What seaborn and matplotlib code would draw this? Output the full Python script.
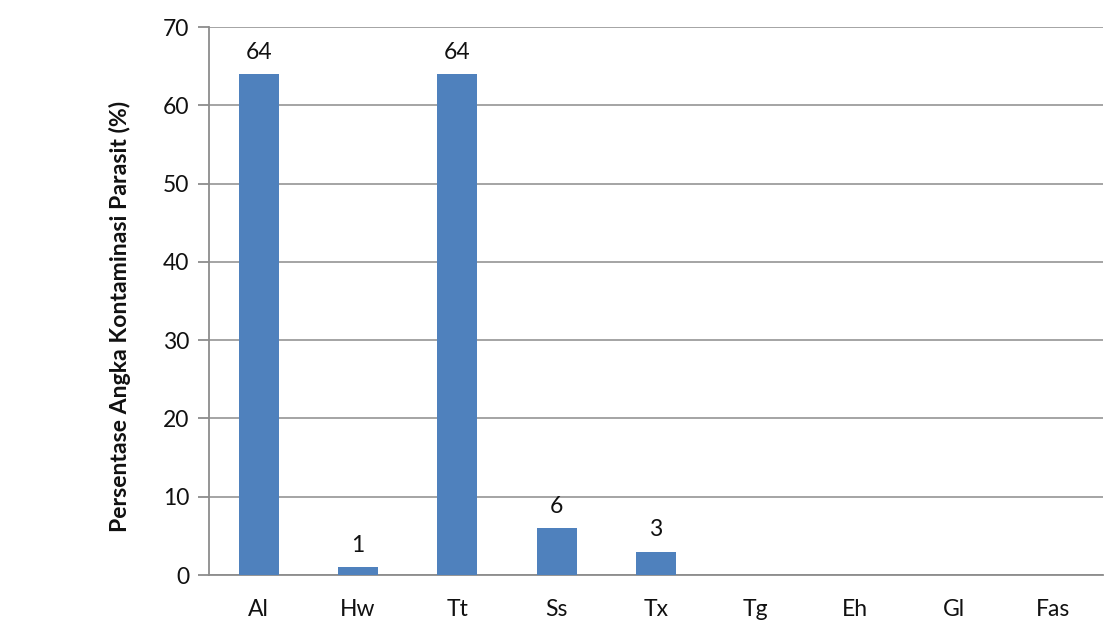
import matplotlib
matplotlib.use("Agg")
import matplotlib.pyplot as plt
import seaborn as sns
import pandas as pd
import numpy as np

# Parasite codes and contamination percentages
categories = ["Al", "Hw", "Tt", "Ss", "Tx", "Tg", "Eh", "Gl", "Fas"]
values = [64, 1, 64, 6, 3, 0, 0, 0, 0]
# Only non-zero values carry a label
labels = ["64", "1", "64", "6", "3", "", "", "", ""]
y_ticks = [0, 10, 20, 30, 40, 50, 60, 70]

sns.set_theme(style="white")
plt.rcParams["font.family"] = ["Lato", "DejaVu Sans"]

df = pd.DataFrame({"parasit": categories, "persen": values})

fig = plt.figure(figsize=(11.12, 6.29), dpi=100)
ax = fig.add_axes([209 / 1112, 1 - 575 / 629, (1103 - 209) / 1112, (575 - 27) / 629])

grid_c = "#8c8c8c"
ax.set_axisbelow(True)
ax.yaxis.grid(True, color=grid_c, linewidth=1.1)

sns.barplot(data=df, x="parasit", y="persen", color="#4f81bd", saturation=1,
            width=0.4, linewidth=0, ax=ax, zorder=3)

for cont in ax.containers:
    ax.bar_label(cont, labels=labels, padding=8, fontsize=16.5, color="#111111")

ax.set_xlim(-0.5, len(categories) - 0.5)
ax.set_ylim(0, 70)
ax.set_yticks(y_ticks)
ax.set_xlabel("")
ax.set_ylabel("Persentase Angka Kontaminasi Parasit (%)", fontsize=16.6,
              fontweight="bold", color="#111111")
ax.yaxis.set_label_coords(-0.0873, 0.4717)

for side in ["top", "right"]:
    ax.spines[side].set_visible(False)
for side in ["left", "bottom"]:
    ax.spines[side].set_visible(True)
    ax.spines[side].set_color(grid_c)
    ax.spines[side].set_linewidth(1.3)

# Category boundaries get outward tick marks; labels sit at the centres
ax.set_xticks(np.arange(-0.5, len(categories) + 0.5, 1), minor=True)
ax.tick_params(axis="x", which="minor", length=9, width=1.3, color=grid_c, direction="out")
ax.tick_params(axis="x", which="major", length=0, pad=17, labelsize=16.5, labelcolor="#111111")
ax.tick_params(axis="y", which="major", length=8, width=1.3, color=grid_c, direction="out",
               pad=6, labelsize=16.5, labelcolor="#111111", left=True)

fig.savefig("out.png", dpi=100, facecolor="white")
